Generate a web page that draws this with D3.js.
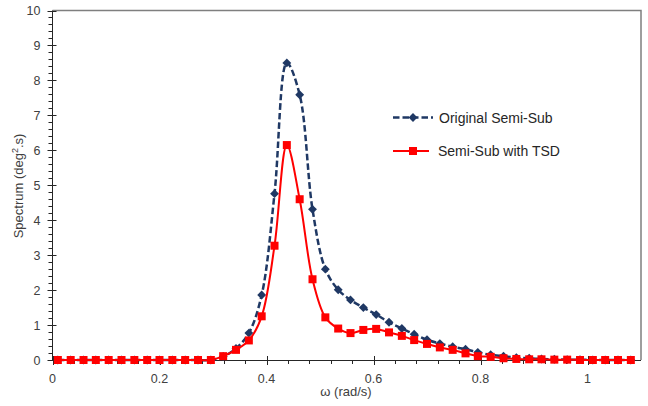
<!DOCTYPE html>
<html>
<head>
<meta charset="utf-8">
<script src="https://cdn.jsdelivr.net/npm/d3@7"></script>
<style>
  html, body { margin: 0; padding: 0; background: #fff; }
  svg { display: block; }
  text { font-family: "Liberation Sans", Arial, sans-serif; }
</style>
</head>
<body>
<svg id="chart" width="648" height="406"></svg>
<script>
// Wave frequency (rad/s) at each computed point
const omega = [
  0.010, 0.034, 0.058, 0.081, 0.105, 0.129, 0.153, 0.177, 0.200, 0.224,
  0.248, 0.272, 0.296, 0.319, 0.343, 0.367, 0.391, 0.415, 0.438, 0.462,
  0.486, 0.510, 0.534, 0.557, 0.581, 0.605, 0.629, 0.653, 0.676, 0.700,
  0.724, 0.748, 0.772, 0.795, 0.819, 0.843, 0.867, 0.891, 0.914, 0.938,
  0.962, 0.986, 1.010, 1.033, 1.057, 1.081
];

// Roll response spectrum, original semi-submersible (deg^2.s)
const originalSemiSub = [
  0, 0, 0, 0, 0, 0, 0, 0, 0, 0,
  0, 0, 0, 0.10, 0.33, 0.77, 1.86, 4.76, 8.50, 7.59,
  4.31, 2.60, 2.01, 1.72, 1.50, 1.30, 1.08, 0.90, 0.74, 0.58,
  0.47, 0.38, 0.31, 0.22, 0.15, 0.11, 0.07, 0.05, 0.03, 0.02,
  0.01, 0.01, 0, 0, 0, 0
];

// Roll response spectrum, semi-submersible fitted with TSD (deg^2.s)
const semiSubWithTSD = [
  0, 0, 0, 0, 0, 0, 0, 0, 0, 0,
  0, 0, 0, 0.11, 0.29, 0.56, 1.25, 3.27, 6.15, 4.60,
  2.31, 1.22, 0.90, 0.77, 0.86, 0.89, 0.79, 0.69, 0.57, 0.46,
  0.36, 0.29, 0.19, 0.11, 0.09, 0.05, 0.03, 0.02, 0.02, 0.01,
  0.01, 0, 0, 0, 0, 0
];

const seriesNames = ["Original Semi-Sub", "Semi-Sub with TSD"];
const xTicks = [0, 0.2, 0.4, 0.6, 0.8, 1];
const yTicks = [0, 1, 2, 3, 4, 5, 6, 7, 8, 9, 10];

const svg = d3.select("#chart");
const plotLeft = 52.5, plotRight = 641, plotTop = 10.5, plotBottom = 360;

const x = d3.scaleLinear().domain([0, 1.1]).range([plotLeft, plotRight]);
const y = d3.scaleLinear().domain([0, 10]).range([plotBottom, plotTop]);

const navy = "#1f3864";
const red = "#ff0000";
const tickColor = "#404040";

// Plot-area frame (top and right sides)
svg.append("path")
  .attr("d", `M${plotLeft},${plotTop}H${plotRight}V${plotBottom}`)
  .attr("fill", "none")
  .attr("stroke", "#7f7f7f")
  .attr("stroke-width", 1.5);

// X axis: major ticks crossing the line, minor ticks below
const xMinor = d3.range(0, 1.1001, 0.04).filter(v => v <= 1.1);
const gx = svg.append("g").attr("transform", `translate(0,${plotBottom})`);
gx.selectAll("line.minor").data(xMinor).join("line")
  .attr("class", "minor")
  .attr("x1", d => Math.round(x(d)) + 0.5).attr("x2", d => Math.round(x(d)) + 0.5)
  .attr("y1", 0).attr("y2", 4)
  .attr("stroke", "#262626");
gx.selectAll("line.major").data(xTicks).join("line")
  .attr("class", "major")
  .attr("x1", d => Math.round(x(d)) + 0.5).attr("x2", d => Math.round(x(d)) + 0.5)
  .attr("y1", -4).attr("y2", 5)
  .attr("stroke", "#262626");
gx.append("line")
  .attr("x1", plotLeft).attr("x2", plotRight).attr("y1", 0.5).attr("y2", 0.5)
  .attr("stroke", "#262626");
gx.selectAll("text").data(xTicks).join("text")
  .attr("x", d => x(d)).attr("y", 23)
  .attr("text-anchor", "middle")
  .attr("font-size", 12.5)
  .attr("fill", tickColor)
  .text(d => d3.format("")(d));

// Y axis: major ticks crossing the line, minor ticks to the left
const yMinor = d3.range(0, 10.001, 0.2);
const gy = svg.append("g").attr("transform", `translate(${plotLeft},0)`);
gy.selectAll("line.minor").data(yMinor).join("line")
  .attr("class", "minor")
  .attr("x1", -4).attr("x2", 0)
  .attr("y1", d => Math.round(y(d)) + 0.5).attr("y2", d => Math.round(y(d)) + 0.5)
  .attr("stroke", "#262626");
gy.selectAll("line.major").data(yTicks).join("line")
  .attr("class", "major")
  .attr("x1", -5).attr("x2", 4)
  .attr("y1", d => Math.round(y(d)) + 0.5).attr("y2", d => Math.round(y(d)) + 0.5)
  .attr("stroke", "#262626");
gy.append("line")
  .attr("x1", 0).attr("x2", 0).attr("y1", plotTop).attr("y2", plotBottom)
  .attr("stroke", "#262626");
gy.selectAll("text").data(yTicks).join("text")
  .attr("x", -12).attr("y", d => y(d) + 4.5)
  .attr("text-anchor", "end")
  .attr("font-size", 12.5)
  .attr("fill", tickColor)
  .text(d => d);

// Axis titles
svg.append("text")
  .attr("x", 346).attr("y", 396)
  .attr("text-anchor", "middle")
  .attr("font-size", 13)
  .attr("fill", tickColor)
  .text("ω (rad/s)");

const yTitle = svg.append("text")
  .attr("transform", "translate(23,186) rotate(-90)")
  .attr("text-anchor", "middle")
  .attr("font-size", 13)
  .attr("fill", tickColor);
yTitle.append("tspan").text("Spectrum (deg");
yTitle.append("tspan").attr("font-size", 9).attr("dy", -5).text("2");
yTitle.append("tspan").attr("dy", 5).text(".s)");

// Series: smoothed lines through the computed points
const line = d3.line()
  .x((d, i) => x(omega[i]))
  .y(d => y(d))
  .curve(d3.curveCatmullRom.alpha(0.5));

const diamond = d3.symbol().type(d3.symbolDiamond2).size(50);

svg.append("path")
  .datum(originalSemiSub)
  .attr("d", line)
  .attr("fill", "none")
  .attr("stroke", navy)
  .attr("stroke-width", 2.5)
  .attr("stroke-dasharray", "6.5,3");

svg.append("g").selectAll("path").data(originalSemiSub).join("path")
  .attr("transform", (d, i) => `translate(${x(omega[i])},${y(d)})`)
  .attr("d", diamond)
  .attr("fill", navy);

svg.append("path")
  .datum(semiSubWithTSD)
  .attr("d", line)
  .attr("fill", "none")
  .attr("stroke", red)
  .attr("stroke-width", 2);

svg.append("g").selectAll("rect").data(semiSubWithTSD).join("rect")
  .attr("x", (d, i) => x(omega[i]) - 4)
  .attr("y", d => y(d) - 4)
  .attr("width", 8).attr("height", 8)
  .attr("fill", red);

// Legend
const legend = svg.append("g");
const lg1 = legend.append("g").attr("transform", "translate(393,117.5)");
lg1.append("line").attr("x1", 0).attr("x2", 40).attr("y1", 0).attr("y2", 0)
  .attr("stroke", navy).attr("stroke-width", 2.5).attr("stroke-dasharray", "6.5,3");
lg1.append("path").attr("transform", "translate(20,0)").attr("d", diamond).attr("fill", navy);
lg1.append("text").attr("x", 46).attr("y", 5).attr("font-size", 14).attr("fill", "#262626")
  .text(seriesNames[0]);

const lg2 = legend.append("g").attr("transform", "translate(393,151)");
lg2.append("line").attr("x1", 0).attr("x2", 36).attr("y1", 0).attr("y2", 0)
  .attr("stroke", red).attr("stroke-width", 2);
lg2.append("rect").attr("x", 16).attr("y", -4).attr("width", 8).attr("height", 8).attr("fill", red);
lg2.append("text").attr("x", 45).attr("y", 5).attr("font-size", 14).attr("fill", "#262626")
  .text(seriesNames[1]);
</script>
</body>
</html>
